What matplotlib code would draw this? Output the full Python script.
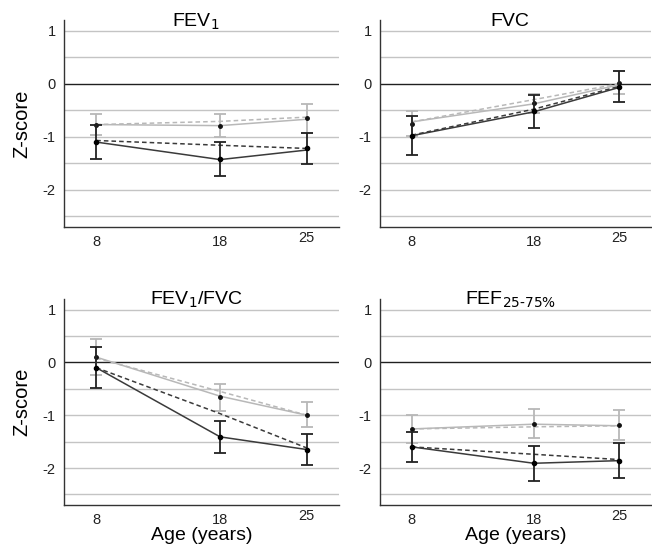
import matplotlib
matplotlib.use('Agg')
import matplotlib.pyplot as plt
import matplotlib.transforms as mtrans

plt.rcParams['font.family'] = ['Liberation Sans', 'DejaVu Sans']

# ---------------------------------- Data ----------------------------------
ages = [8, 18, 25]
titles = ['FEV$_1$', 'FVC', 'FEV$_1$/FVC', 'FEF$_{25\u201075\\%}$']

# light grey group: solid line, dashed line, observed mean with CI
grey_solid = [[-0.77, -0.79, -0.67], [-0.72, -0.38, -0.02], [0.10, -0.64, -1.00], [-1.26, -1.17, -1.20]]
grey_dash = [[-0.77, -0.71, -0.63], [-0.72, -0.30, 0.00], [0.08, -0.55, -1.00], [-1.26, -1.22, -1.20]]
grey_mean = [[-0.77, -0.79, -0.65], [-0.75, -0.37, 0.02], [0.11, -0.66, -0.99], [-1.26, -1.16, -1.19]]
grey_err = [[0.20, 0.21, 0.27], [0.23, 0.18, 0.21], [0.34, 0.26, 0.24], [0.27, 0.27, 0.28]]

# dark group
black_solid = [[-1.10, -1.43, -1.25], [-0.98, -0.53, -0.07], [-0.10, -1.41, -1.65], [-1.60, -1.91, -1.86]]
black_dash = [[-1.07, -1.16, -1.22], [-0.97, -0.48, -0.05], [-0.10, -0.97, -1.62], [-1.60, -1.74, -1.84]]
black_mean = [[-1.09, -1.42, -1.22], [-0.98, -0.52, -0.06], [-0.10, -1.41, -1.65], [-1.60, -1.91, -1.86]]
black_err = [[0.32, 0.32, 0.29], [0.37, 0.31, 0.29], [0.39, 0.30, 0.30], [0.29, 0.33, 0.33]]

grid_levels = [1, 0.5, -0.5, -1, -1.5, -2, -2.5]

# ---------------------------------- Figure --------------------------------
fig = plt.figure(figsize=(6.52, 5.47), dpi=100)
W, H = 652.0, 547.0
boxes = [(64, 20, 339, 227), (380, 20, 651, 227), (64, 299, 339, 505), (380, 299, 651, 505)]

grey = '#b8b8b8'
dark = '#3a3a3a'

for i, (x0, y0, x1, y1) in enumerate(boxes):
    ax = fig.add_axes([x0 / W, 1 - y1 / H, (x1 - x0) / W, (y1 - y0) / H])
    for g in grid_levels:
        ax.axhline(g, color='#c4c4c4', lw=1.0, zorder=0)
    ax.axhline(0, color='#202020', lw=1.0, zorder=1)

    ax.plot(ages, grey_solid[i], color=grey, lw=1.1, zorder=2)
    ax.plot(ages, grey_dash[i], color=grey, lw=1.1, ls=(0, (3, 2)), zorder=2)
    ax.errorbar(ages, grey_mean[i], yerr=grey_err[i], fmt='o', ms=2.5, color='#111111',
                ecolor=grey, elinewidth=1.3, capsize=4, capthick=1.3, zorder=3)

    ax.plot(ages, black_solid[i], color=dark, lw=1.1, zorder=4)
    ax.plot(ages, black_dash[i], color=dark, lw=1.1, ls=(0, (3, 2)), zorder=4)
    ax.errorbar(ages, black_mean[i], yerr=black_err[i], fmt='o', ms=3, color='#000000',
                ecolor='#222222', elinewidth=1.3, capsize=4, capthick=1.3, zorder=5)

    ax.set_xlim(5.4, 27.6)
    ax.set_ylim(-2.7, 1.2)
    ax.set_yticks([1, 0, -1, -2])
    ax.set_yticklabels(['1', '0', '-1', '-2'])
    ax.set_xticks(ages)
    ax.tick_params(length=0, labelsize=10.5, pad=6, colors='#222222')
    # the "25" label sits a little higher
    lab = ax.get_xticklabels()[2]
    lab.set_transform(lab.get_transform() + mtrans.ScaledTranslation(0, 4 / 100, fig.dpi_scale_trans))

    for s in ['top', 'right']:
        ax.spines[s].set_visible(False)
    for s in ['left', 'bottom']:
        ax.spines[s].set_color('#333333')
        ax.spines[s].set_linewidth(1.0)

    ax.set_title(titles[i], fontsize=14, x=0.48, y=0.97, pad=0)
    if i % 2 == 0:
        ax.set_ylabel('Z-score', fontsize=14.5, labelpad=8)
    if i >= 2:
        ax.set_xlabel('Age (years)', fontsize=14, labelpad=0)

fig.savefig('out.png', dpi=100)
